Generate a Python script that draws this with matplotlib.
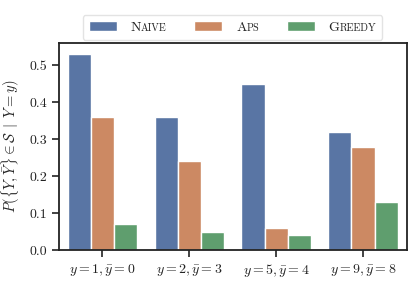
import matplotlib
matplotlib.use("Agg")
import matplotlib.pyplot as plt
import seaborn as sns
import pandas as pd
from matplotlib.offsetbox import TextArea, HPacker

categories = [r"$y=1,\bar{y}=0$", r"$y=2,\bar{y}=3$", r"$y=5,\bar{y}=4$", r"$y=9,\bar{y}=8$"]
naive = [0.53, 0.36, 0.45, 0.32]
aps = [0.36, 0.24, 0.06, 0.28]
greedy = [0.07, 0.05, 0.04, 0.13]
methods = ["Naive", "Aps", "Greedy"]

sns.set_theme(style="ticks")
plt.rcParams["font.family"] = ["cmr10", "DejaVu Serif"]
plt.rcParams["mathtext.fontset"] = "cm"
plt.rcParams["axes.unicode_minus"] = False
plt.rcParams["axes.formatter.use_mathtext"] = True

rows = []
for m, vals in zip(methods, [naive, aps, greedy]):
    for c, v in zip(categories, vals):
        rows.append({"cat": c, "method": m, "val": v})
df = pd.DataFrame(rows)

fig = plt.figure(figsize=(4.15, 2.83), dpi=100)
ax = fig.add_axes([59/415, 1 - 250/283, (406.5 - 59)/415, (250 - 43)/283])
sns.barplot(data=df, x="cat", y="val", hue="method", ax=ax, palette="deep",
            saturation=0.75, edgecolor="white", linewidth=1)
ax.set_ylim(0, 0.56)
ax.set_xlim(-0.5, 3.5)
ax.set_xlabel("")
ax.set_ylabel(r"$P(\{Y,\bar{Y}\} \in \mathcal{S} \;\mid\; Y = y)$", fontsize=10.5, labelpad=5)
ax.set_yticks([0.0, 0.1, 0.2, 0.3, 0.4, 0.5])
ax.set_yticklabels(["0.0", "0.1", "0.2", "0.3", "0.4", "0.5"])
ax.tick_params(labelsize=10, length=5, width=1.2, colors="#222222")
for s in ax.spines.values():
    s.set_linewidth(1.3)
    s.set_color("#222222")

handles, labels = ax.get_legend_handles_labels()
ax.get_legend().remove()
leg = fig.legend(handles, labels, loc="upper center", bbox_to_anchor=(232.5/415, 1 - 8/283),
                 ncol=3, frameon=True, fontsize=10, columnspacing=2.0, handlelength=2.0,
                 borderpad=0.45, handletextpad=1.0)
leg.get_frame().set_edgecolor("#dddddd")

# small caps emulation
try:
    for col in leg._legend_handle_box.get_children():
        for hp in col.get_children():
            kids = hp.get_children()
            ta = kids[1]
            txt = ta._text.get_text()
            ta._text.set_visible(False)
            first = TextArea(txt[0], textprops=dict(fontsize=10, family="cmr10", color="#222222"))
            rest = TextArea(txt[1:].upper(), textprops=dict(fontsize=7.3, family="cmr10", color="#222222"))
            newbox = HPacker(children=[first, rest], align="baseline", pad=0, sep=0)
            for o in (first, rest, newbox):
                o.set_figure(fig)
                o.axes = None
            hp._children = [kids[0], newbox]
except Exception as e:
    print("smallcaps failed", e)

fig.savefig("out.png", dpi=100)
